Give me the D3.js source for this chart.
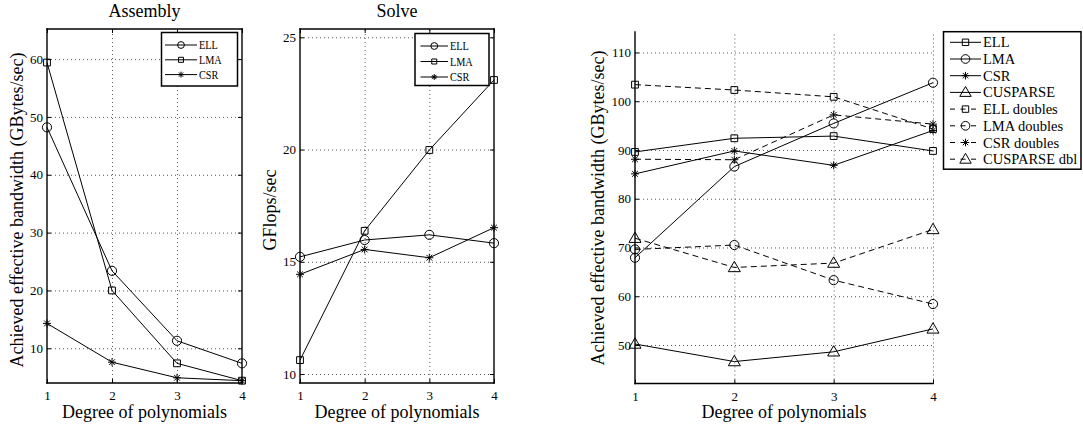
<!DOCTYPE html>
<html>
<head>
<meta charset="utf-8">
<script src="https://cdn.jsdelivr.net/npm/d3@7"></script>
<style>
  body { margin: 0; background: #fff; }
</style>
</head>
<body>
<svg id="chart" width="1083" height="425"></svg>
<script>
// ---- data ----------------------------------------------------------
const degrees = [1, 2, 3, 4];
const xTickLabels = ["1", "2", "3", "4"];

// Assembly: achieved effective bandwidth (GBytes/sec)
const assemblyELL = [48.2, 23.4, 11.3, 7.4];
const assemblyLMA = [59.4, 20.0, 7.4, 4.4];
const assemblyCSR = [14.3, 7.6, 4.9, 4.4];
const assemblyTicks = [10, 20, 30, 40, 50, 60];

// Solve: GFlops/sec
const solveELL = [15.22, 15.97, 16.2, 15.83];
const solveLMA = [10.62, 16.38, 19.98, 23.1];
const solveCSR = [14.44, 15.55, 15.18, 16.52];
const solveTicks = [10, 15, 20, 25];

// SpMV: achieved effective bandwidth (GBytes/sec), single and double precision
const bwELL = [89.6, 92.4, 92.85, 89.8];
const bwLMA = [67.9, 86.6, 95.45, 103.8];
const bwCSR = [85.1, 89.8, 86.85, 94.0];
const bwCUSPARSE = [50.2, 46.6, 48.6, 53.3];
const bwELLdbl = [103.4, 102.3, 100.9, 94.3];
const bwLMAdbl = [69.6, 70.5, 63.3, 58.4];
const bwCSRdbl = [88.1, 88.0, 97.2, 95.3];
const bwCUSPARSEdbl = [71.9, 65.9, 66.8, 73.7];
const bwTicks = [50, 60, 70, 80, 90, 100, 110];

const SERIF = '"Liberation Serif", "Times New Roman", serif';

// ---- marker shapes (unfilled, drawn over the lines) -----------------
const markerTypes = {
  circle: { draw(ctx, size) { const r = Math.sqrt(size / Math.PI); ctx.moveTo(r, 0); ctx.arc(0, 0, r, 0, 2 * Math.PI); } },
  square: { draw(ctx, size) { const h = Math.sqrt(size) / 2; ctx.rect(-h, -h, 2 * h, 2 * h); } },
  star: { draw(ctx, size) {
    const r = Math.sqrt(size) / 2, d = r * 0.72;
    ctx.moveTo(-r, 0); ctx.lineTo(r, 0);
    ctx.moveTo(0, -r); ctx.lineTo(0, r);
    ctx.moveTo(-d, -d); ctx.lineTo(d, d);
    ctx.moveTo(-d, d); ctx.lineTo(d, -d);
  } },
  triangle: { draw(ctx, size) {
    const s = Math.sqrt(size);
    ctx.moveTo(0, -s * 0.62); ctx.lineTo(s * 0.6, s * 0.42); ctx.lineTo(-s * 0.6, s * 0.42); ctx.closePath();
  } }
};
const markerSize = { circle: 66, square: 46, star: 64, triangle: 100 };

const svg = d3.select("#chart");

function label(sel, size) {
  return sel.style("font-family", SERIF).style("font-size", size + "px").style("fill", "#000");
}

function drawPanel(cfg) {
  const x = d3.scaleLinear().domain([1, 4]).range([cfg.left, cfg.right]);
  const y = d3.scaleLinear().domain(cfg.yDomain).range([cfg.bottom, cfg.top]);
  const g = svg.append("g");
  const w = cfg.right - cfg.left, h = cfg.bottom - cfg.top;

  // dotted grid
  const gridX = g.append("g").attr("transform", `translate(0,${cfg.bottom})`)
    .call(d3.axisBottom(x).tickValues(cfg.box ? degrees.slice(1, -1) : degrees.slice(1)).tickSize(-h).tickFormat(""));
  const gridY = g.append("g").attr("transform", `translate(${cfg.left},0)`)
    .call(d3.axisLeft(y).tickValues(cfg.yTicks).tickSize(-w).tickFormat(""));
  [gridX, gridY].forEach(s => {
    s.select(".domain").remove();
    s.selectAll("line").attr("stroke", "#444").attr("stroke-width", 0.9).attr("stroke-dasharray", "1,3");
  });

  // axes with inward ticks
  const ax = g.append("g").attr("transform", `translate(0,${cfg.bottom})`)
    .call(d3.axisBottom(x).tickValues(degrees).tickFormat((d, i) => xTickLabels[i]).tickSize(-4).tickPadding(8));
  const ay = g.append("g").attr("transform", `translate(${cfg.left},0)`)
    .call(d3.axisLeft(y).tickValues(cfg.yTicks).tickSize(-4).tickPadding(4));
  const axes = [ax, ay];
  if (cfg.box) {
    axes.push(g.append("g").attr("transform", `translate(0,${cfg.top})`)
      .call(d3.axisTop(x).tickValues(degrees).tickSize(-4).tickFormat("")));
    axes.push(g.append("g").attr("transform", `translate(${cfg.right},0)`)
      .call(d3.axisRight(y).tickValues(cfg.yTicks).tickSize(-4).tickFormat("")));
  }
  axes.forEach(s => {
    s.select(".domain").remove();
    s.selectAll(".tick line").attr("stroke", "#000").attr("stroke-width", 1);
    label(s.selectAll(".tick text"), 13);
  });
  // frame lines
  const lines = [[cfg.left, cfg.bottom, cfg.right, cfg.bottom], [cfg.left, cfg.top, cfg.left, cfg.bottom]];
  if (cfg.box) lines.push([cfg.left, cfg.top, cfg.right, cfg.top], [cfg.right, cfg.top, cfg.right, cfg.bottom]);
  g.selectAll("line.frame").data(lines).join("line").attr("class", "frame")
    .attr("x1", d => d[0]).attr("y1", d => d[1]).attr("x2", d => d[2]).attr("y2", d => d[3])
    .attr("stroke", "#000").attr("stroke-width", 1.4).attr("stroke-linecap", "square");

  // series
  const line = d3.line().x((d, i) => x(degrees[i])).y(d => y(d));
  cfg.series.forEach(s => {
    g.append("path").attr("d", line(s.values)).attr("fill", "none").attr("stroke", "#000")
      .attr("stroke-width", 1).attr("stroke-dasharray", s.dashed ? "6,4" : null);
    g.selectAll(null).data(s.values).join("path")
      .attr("transform", (d, i) => `translate(${x(degrees[i])},${y(d)})`)
      .attr("d", d3.symbol().type(markerTypes[s.marker]).size(markerSize[s.marker]))
      .attr("fill", "none").attr("stroke", "#000").attr("stroke-width", 1);
  });

  // titles and labels
  if (cfg.title) label(g.append("text"), 18).attr("x", (cfg.left + cfg.right) / 2).attr("y", 17)
    .attr("text-anchor", "middle").text(cfg.title);
  label(g.append("text"), 18).attr("x", (cfg.left + cfg.right) / 2).attr("y", 418)
    .attr("text-anchor", "middle").text("Degree of polynomials");
  label(g.append("text"), 18).attr("transform", `translate(${cfg.yLabelX},${cfg.yLabelY}) rotate(-90)`)
    .attr("text-anchor", "middle").attr("dy", "0.35em").text(cfg.yLabel);

  // legend
  const L = cfg.legend;
  g.append("rect").attr("x", L.x).attr("y", L.y).attr("width", L.w).attr("height", L.h)
    .attr("fill", "#fff").attr("stroke", "#000").attr("stroke-width", 1.5);
  cfg.series.forEach((s, i) => {
    const yy = L.y + L.first + i * L.step;
    const mid = (L.lx0 + L.lx1) / 2;
    g.append("line").attr("x1", L.lx0).attr("x2", L.lx1).attr("y1", yy).attr("y2", yy)
      .attr("stroke", "#000").attr("stroke-width", 1)
      .attr("stroke-dasharray", s.dashed ? "5,5.5,5,5.5,5" : null);
    g.append("path").attr("transform", `translate(${mid},${yy})`)
      .attr("d", d3.symbol().type(markerTypes[s.marker]).size(markerSize[s.marker] * L.mscale))
      .attr("fill", "none").attr("stroke", "#000").attr("stroke-width", 1);
    label(g.append("text"), L.font)
      .attr("transform", `translate(${L.lx1 + 2},${yy}) scale(${L.sx},1)`)
      .attr("dy", "0.35em").text(s.name);
  });
}

drawPanel({
  left: 47, right: 242, top: 29, bottom: 383, box: true,
  yDomain: [4, 65.2], yTicks: assemblyTicks, title: "Assembly",
  yLabel: "Achieved effective bandwidth (GBytes/sec)", yLabelX: 17, yLabelY: 210,
  series: [
    { name: "ELL", values: assemblyELL, marker: "circle" },
    { name: "LMA", values: assemblyLMA, marker: "square" },
    { name: "CSR", values: assemblyCSR, marker: "star" }
  ],
  legend: { x: 161.5, y: 32.5, w: 76, h: 53.5, first: 12.5, step: 14.8, lx0: 165, lx1: 197, mscale: 0.55, font: 12.5, sx: 0.82 }
});

drawPanel({
  left: 300, right: 494, top: 29, bottom: 383, box: true,
  yDomain: [9.6, 25.37], yTicks: solveTicks, title: "Solve",
  yLabel: "GFlops/sec", yLabelX: 270, yLabelY: 210,
  series: [
    { name: "ELL", values: solveELL, marker: "circle" },
    { name: "LMA", values: solveLMA, marker: "square" },
    { name: "CSR", values: solveCSR, marker: "star" }
  ],
  legend: { x: 415, y: 33.5, w: 74, h: 52, first: 12.5, step: 15.5, lx0: 420.5, lx1: 448, mscale: 0.55, font: 12.5, sx: 0.82 }
});

drawPanel({
  left: 635, right: 933, top: 32, bottom: 383.5, box: false,
  yDomain: [42.1, 114.2], yTicks: bwTicks, title: null,
  yLabel: "Achieved effective bandwidth (GBytes/sec)", yLabelX: 597.5, yLabelY: 208,
  series: [
    { name: "ELL", values: bwELL, marker: "square" },
    { name: "LMA", values: bwLMA, marker: "circle" },
    { name: "CSR", values: bwCSR, marker: "star" },
    { name: "CUSPARSE", values: bwCUSPARSE, marker: "triangle" },
    { name: "ELL doubles", values: bwELLdbl, marker: "square", dashed: true },
    { name: "LMA doubles", values: bwLMAdbl, marker: "circle", dashed: true },
    { name: "CSR doubles", values: bwCSRdbl, marker: "star", dashed: true },
    { name: "CUSPARSE dbl", values: bwCUSPARSEdbl, marker: "triangle", dashed: true }
  ],
  legend: { x: 943.5, y: 31.7, w: 137.5, h: 137.5, first: 10.6, step: 16.7, lx0: 950, lx1: 981, mscale: 0.9, font: 14.5, sx: 1 }
});
</script>
</body>
</html>
